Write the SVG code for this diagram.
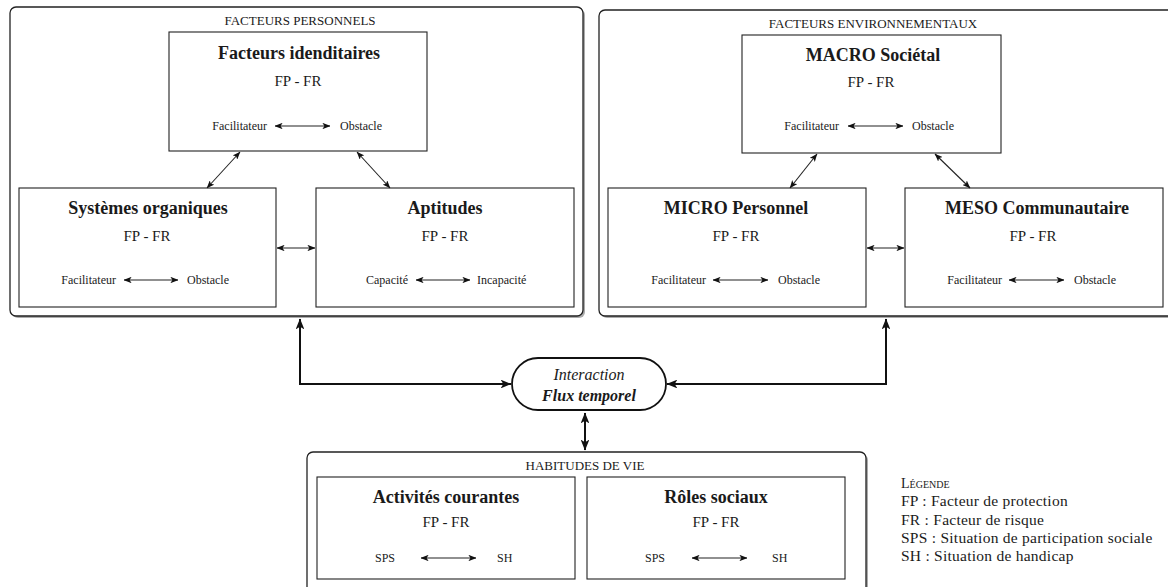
<svg xmlns="http://www.w3.org/2000/svg" width="1168" height="587" viewBox="0 0 1168 587">
<style>
text{font-family:"Liberation Serif","Times New Roman",serif;fill:#1a1a1a}
.outer{fill:#fff;stroke:#222;stroke-width:1.3}
.shadow{fill:#888;stroke:none;opacity:.7}
.box{fill:#fff;stroke:#222;stroke-width:1.1}
.sec{font-size:13px;text-anchor:middle}
.ttl{font-size:18px;font-weight:bold;text-anchor:middle}
.fp{font-size:15px;text-anchor:middle}
.row{font-size:12px}
.end{text-anchor:end}
.thin{fill:none;stroke:#222;stroke-width:1.1;marker-start:url(#hs);marker-end:url(#hs)}
.thick{fill:none;stroke:#111;stroke-width:2;marker-start:url(#hb);marker-end:url(#hb)}
.leg{font-size:15.5px;letter-spacing:0.25px}
</style>
<defs>
<marker id="hs" viewBox="0 0 10 8" refX="9.5" refY="4" markerWidth="8" markerHeight="6.4" markerUnits="userSpaceOnUse" orient="auto-start-reverse">
<path d="M0,0 L10,4 L0,8 L2.5,4 z" fill="#111"/>
</marker>
<marker id="hb" viewBox="0 0 10 8" refX="9.5" refY="4" markerWidth="11" markerHeight="8.8" markerUnits="userSpaceOnUse" orient="auto-start-reverse">
<path d="M0,0 L10,4 L0,8 L2.5,4 z" fill="#111"/>
</marker>
</defs>

<g id="facteurs-personnels">
<rect class="shadow" x="12" y="9" width="573" height="309" rx="6"/>
<rect class="outer" x="10" y="7" width="573" height="309" rx="6"/>
<text class="sec" x="300" y="25">FACTEURS PERSONNELS</text>
</g>
<g id="facteurs-environnementaux">
<rect class="shadow" x="601" y="12" width="575" height="306" rx="6"/>
<rect class="outer" x="599" y="10" width="575" height="306" rx="6"/>
<text class="sec" x="873" y="28">FACTEURS ENVIRONNEMENTAUX</text>
</g>
<g id="habitudes-de-vie">
<rect class="shadow" x="309" y="454" width="559" height="150" rx="6"/>
<rect class="outer" x="307" y="452" width="559" height="150" rx="6"/>
<text class="sec" x="585" y="470">HABITUDES DE VIE</text>
</g>

<g id="facteurs-identitaires">
<rect class="box" x="169" y="32" width="258" height="119"/>
<text class="ttl" x="299" y="59">Facteurs idenditaires</text>
<text class="fp" x="298" y="86">FP - FR</text>
<text class="row end" x="267" y="130">Facilitateur</text>
<text class="row" x="340" y="130">Obstacle</text>
<line class="thin" x1="275" y1="126" x2="330" y2="126"/>
</g>
<g id="systemes-organiques">
<rect class="box" x="19" y="188" width="257" height="119"/>
<text class="ttl" x="148" y="214">Systèmes organiques</text>
<text class="fp" x="147" y="241">FP - FR</text>
<text class="row end" x="116" y="284">Facilitateur</text>
<text class="row" x="187" y="284">Obstacle</text>
<line class="thin" x1="124" y1="280" x2="178" y2="280"/>
</g>
<g id="aptitudes">
<rect class="box" x="316" y="188" width="258" height="119"/>
<text class="ttl" x="445" y="214">Aptitudes</text>
<text class="fp" x="445" y="241">FP - FR</text>
<text class="row end" x="408" y="284">Capacité</text>
<text class="row" x="477" y="284">Incapacité</text>
<line class="thin" x1="416" y1="280" x2="470" y2="280"/>
</g>

<g id="macro-societal">
<rect class="box" x="742" y="35" width="259" height="118"/>
<text class="ttl" x="873" y="61">MACRO Sociétal</text>
<text class="fp" x="871" y="87">FP - FR</text>
<text class="row end" x="839" y="130">Facilitateur</text>
<text class="row" x="912" y="130">Obstacle</text>
<line class="thin" x1="848" y1="126" x2="903" y2="126"/>
</g>
<g id="micro-personnel">
<rect class="box" x="608" y="188" width="258" height="119"/>
<text class="ttl" x="736" y="214">MICRO Personnel</text>
<text class="fp" x="736" y="241">FP - FR</text>
<text class="row end" x="706" y="284">Facilitateur</text>
<text class="row" x="778" y="284">Obstacle</text>
<line class="thin" x1="713" y1="280" x2="768" y2="280"/>
</g>
<g id="meso-communautaire">
<rect class="box" x="905" y="188" width="258" height="119"/>
<text class="ttl" x="1037" y="214">MESO Communautaire</text>
<text class="fp" x="1033" y="241">FP - FR</text>
<text class="row end" x="1002" y="284">Facilitateur</text>
<text class="row" x="1074" y="284">Obstacle</text>
<line class="thin" x1="1009" y1="280" x2="1064" y2="280"/>
</g>

<g id="activites-courantes">
<rect class="box" x="317" y="477" width="258" height="102"/>
<text class="ttl" x="446" y="503">Activités courantes</text>
<text class="fp" x="446" y="527">FP - FR</text>
<text class="row end" x="395" y="562">SPS</text>
<text class="row" x="497" y="562">SH</text>
<line class="thin" x1="421" y1="558" x2="476" y2="558"/>
</g>
<g id="roles-sociaux">
<rect class="box" x="587" y="477" width="258" height="102"/>
<text class="ttl" x="716" y="503">Rôles sociaux</text>
<text class="fp" x="716" y="527">FP - FR</text>
<text class="row end" x="665" y="562">SPS</text>
<text class="row" x="772" y="562">SH</text>
<line class="thin" x1="692" y1="558" x2="747" y2="558"/>
</g>

<g id="interaction">
<rect x="512" y="358" width="154" height="52" rx="26" fill="#fff" stroke="#111" stroke-width="1.8"/>
<text x="589" y="380" font-size="16" font-style="italic" text-anchor="middle">Interaction</text>
<text x="589" y="401" font-size="16" font-style="italic" font-weight="bold" text-anchor="middle">Flux temporel</text>
</g>

<g id="connectors">
<line class="thin" x1="240" y1="152" x2="207" y2="188"/>
<line class="thin" x1="357" y1="152" x2="390" y2="188"/>
<line class="thin" x1="277" y1="248" x2="315" y2="248"/>
<line class="thin" x1="817" y1="154" x2="790" y2="188"/>
<line class="thin" x1="935" y1="154" x2="970" y2="188"/>
<line class="thin" x1="867" y1="248" x2="904" y2="248"/>
<path class="thick" d="M300,319 V384 H511"/>
<path class="thick" d="M886,319 V384 H667"/>
<line class="thick" x1="585" y1="413" x2="585" y2="450"/>
</g>

<g id="legende">
<text x="901" y="488" font-size="14" style="font-variant:small-caps">Légende</text>
<text class="leg" x="901" y="506">FP : Facteur de protection</text>
<text class="leg" x="901" y="525">FR : Facteur de risque</text>
<text class="leg" x="901" y="543">SPS : Situation de participation sociale</text>
<text class="leg" x="901" y="561">SH : Situation de handicap</text>
</g>
</svg>
